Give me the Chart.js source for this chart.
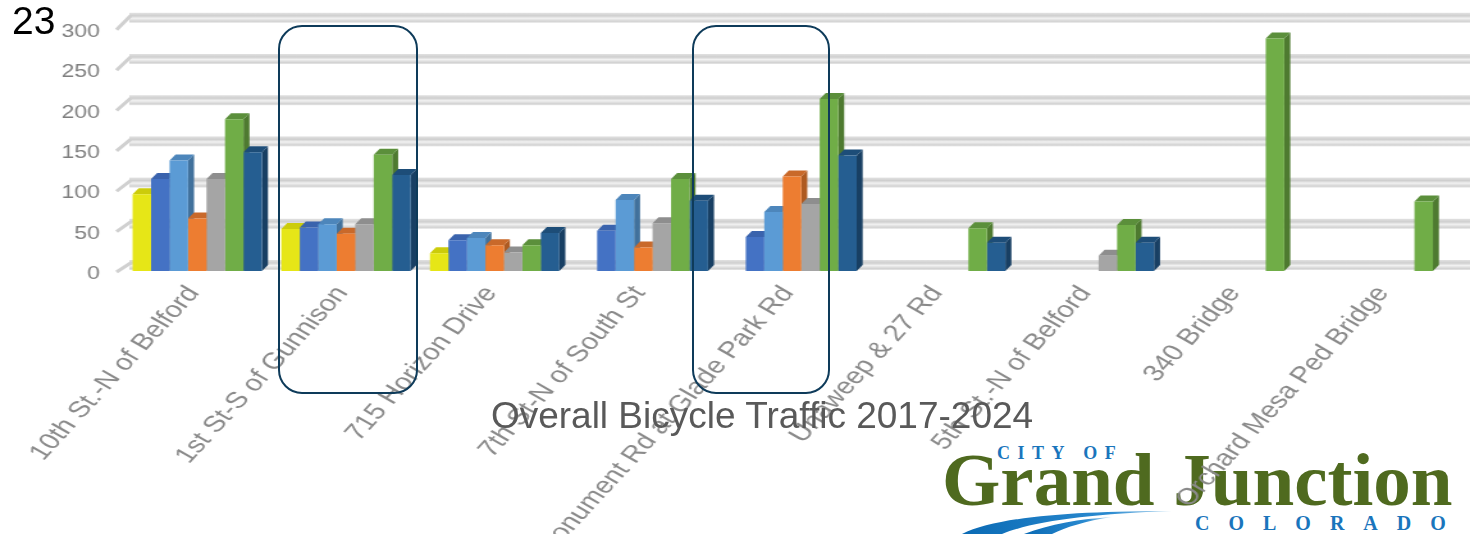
<!DOCTYPE html>
<html>
<head>
<meta charset="utf-8">
<script src="https://cdn.jsdelivr.net/npm/chart.js@4.4.0/dist/chart.umd.min.js"></script>
<style>
  html, body { margin: 0; padding: 0; background: #fff; }
  body { width: 1470px; height: 534px; overflow: hidden; position: relative; font-family: "Liberation Sans", Arial, sans-serif; }
  /* the chart in the slide is a picture stretched sideways, so draw narrow and stretch */
  #stretch { position: absolute; left: 0; top: 0; width: 1148px; height: 534px; transform: scaleX(1.2805); transform-origin: 0 0; z-index: 2; }
  .ovl { position: absolute; white-space: nowrap; line-height: 1; }
  #corner { left: 12px; top: 1px; font-size: 39px; color: #000; z-index: 3; }
  #title { left: 362px; width: 800px; text-align: center; top: 397px; font-size: 37px; color: #595959; z-index: 4; }
  .box { position: absolute; border: 2.5px solid #0e3b5a; border-radius: 24px; box-sizing: border-box; z-index: 4; }
  #logo { position: absolute; left: 0; top: 0; z-index: 1; }
  .serif { font-family: "Liberation Serif", "DejaVu Serif", serif; font-weight: bold; }
  #cityof { left: 997px; top: 444px; font-size: 18px; letter-spacing: 7.5px; color: #1a75bc; }
  #gj { left: 942px; top: 442px; font-size: 75px; color: #4f6a1f; }
  #colorado { left: 1195px; top: 513px; font-size: 20px; letter-spacing: 19px; color: #1a75bc; }
  #swoosh { position: absolute; left: 940px; top: 503px; }
</style>
</head>
<body>
<div id="stretch"><canvas id="c"></canvas></div>

<div class="ovl" id="corner">23</div>
<div class="box" style="left:278px; top:25px; width:140px; height:369px;"></div>
<div class="box" style="left:692px; top:25px; width:138px; height:369px;"></div>
<div class="ovl" id="title">Overall Bicycle Traffic 2017-2024</div>

<div id="logo">
  <div class="ovl serif" id="cityof">CITY OF</div>
  <div class="ovl serif" id="gj">Grand Junction</div>
  <div class="ovl serif" id="colorado">COLORADO</div>
  <svg id="swoosh" width="260" height="31" viewBox="0 0 260 31">
    <defs>
      <linearGradient id="sw" x1="0" y1="0" x2="1" y2="0">
        <stop offset="0" stop-color="#0a6ab4"/>
        <stop offset="0.7" stop-color="#2a8ad0"/>
        <stop offset="1" stop-color="#b9dcf2"/>
      </linearGradient>
    </defs>
    <path d="M22 31 C58 13 140 8 232 8 C150 11 94 18 62 31 Z" fill="url(#sw)"/>
    <path d="M84 31 C110 21 140 16 172 14 C146 18 126 24 112 31 Z" fill="url(#sw)"/>
  </svg>
</div>

<script>
// count locations, bicycles per count
const locations = ['10th St.-N of Belford', '1st St-S of Gunnison', '715 Horizon Drive', '7th St-N of South St',
  'Monument Rd at Glade Park Rd', 'Unaweep & 27 Rd', '5th St.-N of Belford', '340 Bridge', 'Orchard Mesa Ped Bridge'];
const years = ['2017', '2018', '2019', '2020', '2021', '2022', '2023'];
const y2017 = [95, 52, 22, null, null, null, null, null, null];
const y2018 = [114, 54, 38, 50, 42, null, null, null, null];
const y2019 = [137, 58, 41, 88, 73, null, null, null, null];
const y2020 = [65, 46, 32, 29, 117, null, null, null, null];
const y2021 = [114, 58, 23, 59, 83, null, 19, null, null];
const y2022 = [188, 144, 32, 114, 213, 53, 57, 288, 86];
const y2023 = [147, 119, 47, 87, 143, 35, 35, null, null];
const yTicks = [0, 50, 100, 150, 200, 250, 300];

const frontColors = ['#e6e617', '#4472c4', '#5b9bd5', '#ed7d31', '#a5a5a5', '#70ad47', '#255e91'];
const sideColors  = ['#b3b300', '#2f528f', '#41719c', '#ae5a21', '#7b7b7b', '#4e7a30', '#183f63'];
const topColors   = ['#cccc0a', '#3a63ad', '#4d86bb', '#c9692a', '#8e8e8e', '#5b8f3b', '#1d4d78'];

const series = [y2017, y2018, y2019, y2020, y2021, y2022, y2023];
const dx = 4.7, dy = 6;

// back wall bands + the side and top faces of each bar, drawn before the fronts
const bars3d = {
  id: 'bars3d',
  beforeDatasetsDraw(chart) {
    const { ctx, chartArea, scales: { y } } = chart;
    ctx.save();
    y.ticks.forEach(t => {
      const py0 = y.getPixelForValue(t.value);
      const py = py0 - 6 - 5 * t.value / 300;
      const g = ctx.createLinearGradient(0, py - 5, 0, py + 5);
      g.addColorStop(0, '#e2e2e2');
      g.addColorStop(0.3, '#cfcfcf');
      g.addColorStop(0.55, '#f1f1f1');
      g.addColorStop(0.85, '#d3d3d3');
      g.addColorStop(1, '#e6e6e6');
      ctx.fillStyle = g;
      ctx.fillRect(chartArea.left + 5, py - 5, chart.width - chartArea.left - 5, 10);
      ctx.strokeStyle = '#d0d0d0';
      ctx.lineWidth = 3;
      ctx.beginPath();
      ctx.moveTo(chartArea.left - 5, py0 + 1);
      ctx.lineTo(chartArea.left + 6, py - 2);
      ctx.stroke();
    });
    chart.data.datasets.forEach((ds, i) => {
      const meta = chart.getDatasetMeta(i);
      meta.data.forEach((bar, j) => {
        if (ds.data[j] == null) return;
        const { x, y: top, base, width } = bar.getProps(['x', 'y', 'base', 'width'], true);
        const l = x - width / 2, r = x + width / 2;
        ctx.fillStyle = sideColors[i];
        ctx.beginPath();
        ctx.moveTo(r, top); ctx.lineTo(r + dx, top - dy); ctx.lineTo(r + dx, base - dy); ctx.lineTo(r, base);
        ctx.closePath(); ctx.fill();
        ctx.fillStyle = topColors[i];
        ctx.beginPath();
        ctx.moveTo(l, top); ctx.lineTo(l + dx, top - dy); ctx.lineTo(r + dx, top - dy); ctx.lineTo(r, top);
        ctx.closePath(); ctx.fill();
      });
    });
    ctx.restore();
  }
};

new Chart(document.getElementById('c'), {
  type: 'bar',
  data: {
    labels: locations,
    datasets: series.map((d, i) => ({
      label: years[i],
      data: d,
      backgroundColor: frontColors[i],
      borderWidth: 0,
      categoryPercentage: 0.87,
      barPercentage: 1.0
    }))
  },
  options: {
    responsive: true,
    maintainAspectRatio: false,
    animation: false,
    layout: { padding: { top: 22, right: 7, left: 0, bottom: 0 } },
    plugins: { legend: { display: false }, tooltip: { enabled: false }, title: { display: false } },
    scales: {
      x: {
        grid: { display: false, drawTicks: false },
        border: { display: false },
        ticks: { color: '#8a8a8a', font: { family: 'Liberation Sans', size: 23 }, minRotation: 54, maxRotation: 54, autoSkip: false, padding: 10, labelOffset: -3 },
        afterFit(s) { s.height = 263; }
      },
      y: {
        min: 0, max: 300,
        afterBuildTicks(s) { s.ticks = yTicks.map(v => ({ value: v })); },
        grid: { display: false, drawTicks: false },
        border: { display: false },
        ticks: { color: '#7f7f7f', font: { family: 'Liberation Sans', size: 18 }, padding: 18, labelOffset: 3 },
        afterFit(s) { s.width = 96; }
      }
    }
  },
  plugins: [bars3d]
});
</script>
</body>
</html>
